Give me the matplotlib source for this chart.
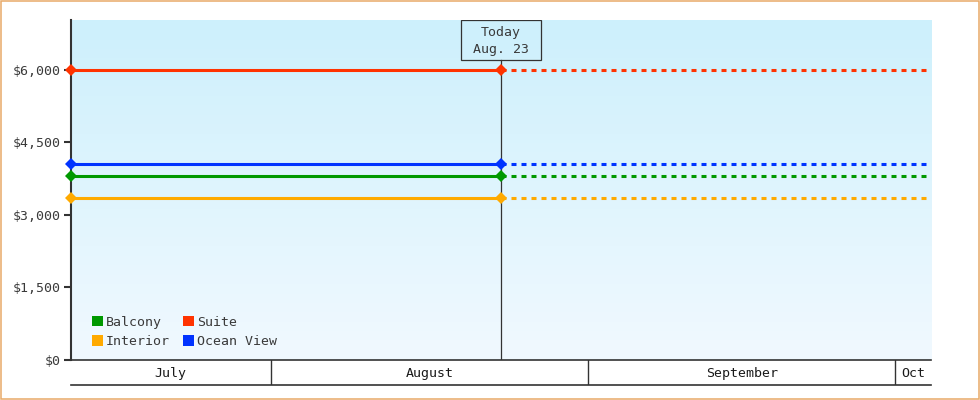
import matplotlib
matplotlib.use("Agg")
import matplotlib.pyplot as plt
import matplotlib.dates as mdates
from matplotlib.patches import Patch, Rectangle
import numpy as np
import datetime as dt

# ---- data ----
categories = ["Balcony", "Suite", "Interior", "Ocean View"]
prices = [3800, 6000, 3350, 4050]
colors = ["#009900", "#ff3300", "#ffaa00", "#0033ff"]
today = dt.datetime(2024, 8, 23, 11, 15)
window = dt.timedelta(weeks=6)
start_date = today - window
end_date = today + window
month_starts = [dt.datetime(2024, 8, 1), dt.datetime(2024, 9, 1), dt.datetime(2024, 10, 1)]
month_labels = ["July", "August", "September", "Oct"]
yticks = [0, 1500, 3000, 4500, 6000]
ytick_labels = ["$0", "$1,500", "$3,000", "$4,500", "$6,000"]
today_label = "Today\nAug. 23"

plt.rcParams["font.family"] = ["DejaVu Sans Mono"]
plt.rcParams["lines.scale_dashes"] = False
FS = 9.5
TXT = "#3a3a3a"

W, H = 980, 400
fig = plt.figure(figsize=(W / 100, H / 100), dpi=100)
fig.patch.set_facecolor("white")
# outer border
fig.add_artist(Rectangle((0.6 / W, 0.6 / H), 1 - 1.2 / W, 1 - 1.2 / H, transform=fig.transFigure,
                         fill=False, edgecolor="#e8aa68", linewidth=1.1))

L, R, T, B = 70.5, 931, 20, 360
ax = fig.add_axes([L / W, 1 - B / H, (R - L) / W, (B - T) / H])
x0, x1 = mdates.date2num(start_date), mdates.date2num(end_date)
ax.set_xlim(x0, x1)
ax.set_ylim(0, 7034)

# gradient background
grad = np.linspace(0, 1, 256).reshape(-1, 1)
top = np.array([205, 240, 252]) / 255
bot = np.array([241, 249, 255]) / 255
img = top[None, None, :] * (1 - grad[:, :, None]) + bot[None, None, :] * grad[:, :, None]
ax.imshow(img, extent=[0, 1, 0, 1], transform=ax.transAxes, aspect="auto", zorder=0)

for s in ["top", "right", "bottom"]:
    ax.spines[s].set_visible(False)
ax.spines["left"].set_color("#333333")
ax.spines["left"].set_linewidth(1.5)
ax.spines["left"].set_zorder(3)

ax.set_yticks(yticks)
ax.set_yticklabels(ytick_labels)
ax.tick_params(axis="y", length=5, width=1.5, color="#333333", labelcolor=TXT,
               labelsize=FS, pad=2)
ax.set_xticks([])

xs_solid = mdates.date2num([start_date, today])
xs_dash = mdates.date2num([today, end_date])
for cat, p, c in zip(categories, prices, colors):
    ax.plot(xs_solid, [p, p], color=c, linewidth=2.2, solid_capstyle="butt", zorder=4)
    ax.plot(xs_dash, [p, p], color=c, linewidth=2.2, dashes=(3.6, 3.6), zorder=4)
    ax.plot(xs_solid, [p, p], linestyle="none", marker="D", markersize=6, color=c,
            markeredgewidth=0, zorder=5, clip_on=False)

# today line & label box
tx = mdates.date2num(today)
ax_w, ax_h = R - L, B - T
fx = (tx - x0) / (x1 - x0)
box_w, box_h = 80 / ax_w, 40 / ax_h
ax.add_patch(Rectangle((fx - box_w / 2, 1 - box_h), box_w, box_h, transform=ax.transAxes,
                       facecolor="none", edgecolor="#333333", linewidth=0.9, zorder=6))
ax.plot([tx, tx], [0, 1 - box_h], transform=ax.get_xaxis_transform(), color="#333333",
        linewidth=0.9, zorder=3)
ax.text(tx, 1 - box_h / 2 - 0.003, today_label, transform=ax.get_xaxis_transform(), ha="center",
        va="center", fontsize=FS, color=TXT, linespacing=1.4, zorder=6)

# legend
handles = [Patch(facecolor=colors[i], edgecolor="none") for i in [0, 2, 1, 3]]
labels = [categories[i] for i in [0, 2, 1, 3]]
ax.legend(handles, labels, ncol=2, loc="lower left", bbox_to_anchor=(0.011, 0.0),
          frameon=False, fontsize=FS, handlelength=0.85, handleheight=0.85,
          handletextpad=0.2, columnspacing=1.0, labelspacing=0.5, borderaxespad=0.5,
          labelcolor=TXT)

# month band
bx = fig.add_axes([L / W, 1 - 385 / H, (R - L) / W, 25 / H])
bx.set_xlim(ax.get_xlim())
bx.set_ylim(0, 1)
bx.axis("off")
bx.axhline(1, color="#333333", linewidth=1.2, clip_on=False)
bx.axhline(0, color="#333333", linewidth=1.2, clip_on=False)
edges = [x0] + list(mdates.date2num(month_starts)) + [x1]
for m in mdates.date2num(month_starts):
    bx.axvline(m, color="#333333", linewidth=1.0)
for i, lab in enumerate(month_labels):
    bx.text((edges[i] + edges[i + 1]) / 2, 0.45, lab, ha="center", va="center",
            fontsize=FS, color="#1a1a1a")

fig.savefig("out.png", dpi=100, facecolor="white")
